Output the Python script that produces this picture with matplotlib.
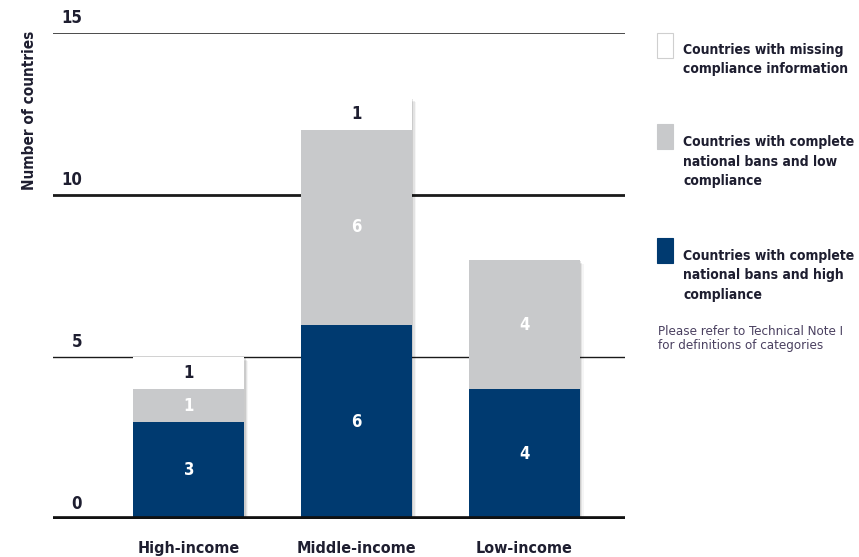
import matplotlib
matplotlib.use('Agg')
import matplotlib.pyplot as plt
from matplotlib import font_manager as fm
import matplotlib.transforms as mtransforms
from matplotlib.patches import Rectangle

categories = ['High-income', 'Middle-income', 'Low-income']
high_compliance = [3, 6, 4]
low_compliance = [1, 6, 4]
missing_info = [1, 1, 0]
y_ticks = [0, 5, 10, 15]
legend_labels = ['Countries with missing\ncompliance information',
                 'Countries with complete\nnational bans and low\ncompliance',
                 'Countries with complete\nnational bans and high\ncompliance']
note_text = 'Please refer to Technical Note I\nfor definitions of categories'
y_label = 'Number of countries'

names = {f.name for f in fm.fontManager.ttflist}
if 'Liberation Sans Narrow' in names:
    FAM = ['Liberation Sans Narrow', 'DejaVu Sans']
    STRETCH = 'normal'
else:
    FAM = ['DejaVu Sans']
    STRETCH = 'condensed'
plt.rcParams['font.family'] = FAM
plt.rcParams['font.stretch'] = STRETCH

BLUE = '#003a70'
GRAY = '#c8c9cb'
WHITE = '#ffffff'
DARK = '#1e1e30'
LINE = '#1a1a1a'

W, H = 859, 557
fig = plt.figure(figsize=(W / 100, H / 100), dpi=100)
ax = fig.add_axes([53 / W, 38 / H, 572 / W, 486 / H])
ax.set_ylim(0, 15)
ax.set_xlim(-0.809, 2.60)
for s in ax.spines.values():
    s.set_visible(False)
ax.set_yticks([])

# grid lines
widths = {5: 1.0, 10: 2.0, 15: 1.1}
for v in y_ticks[1:]:
    ax.axhline(v, color=LINE, lw=widths[v], zorder=1)
ax.axhline(0, color='#111111', lw=4.8, zorder=4)

# y tick labels above lines
ttrans = mtransforms.offset_copy(ax.get_yaxis_transform(), fig=fig, x=0, y=4, units='points')
for v in y_ticks:
    ax.text(0.0507, v, str(v), transform=ttrans, ha='right', va='bottom',
            fontsize=12, fontweight='bold', color=DARK)

x = list(range(len(categories)))
bw = 0.66
bottoms2 = [a + b for a, b in zip(high_compliance, low_compliance)]
series = [(high_compliance, [0, 0, 0], BLUE, 'white'),
          (low_compliance, high_compliance, GRAY, 'white'),
          (missing_info, bottoms2, WHITE, DARK)]

# soft shadow
totals = [a + b + c for a, b, c in zip(high_compliance, low_compliance, missing_info)]
for k, a in enumerate([0.10, 0.07, 0.04]):
    shk = mtransforms.offset_copy(ax.transData, fig=fig, x=1 + k, y=-(1 + k), units='points')
    ax.bar(x, totals, width=bw, color='#000000', alpha=a, zorder=1.5, transform=shk, lw=0)

for vals, bots, col, tcol in series:
    ax.bar(x, vals, width=bw, bottom=bots, color=col, zorder=2, lw=0)
    for xi, v, b in zip(x, vals, bots):
        if v > 0:
            ax.text(xi, b + v / 2, str(v), ha='center', va='center', fontsize=12,
                    fontweight='bold', color=tcol, zorder=5)

ax.set_xticks(x)
ax.set_xticklabels(categories, fontsize=11.5, fontweight='bold', color=DARK)
ax.tick_params(axis='x', length=0, pad=16)

fig.text(30 / W, 1 - 110 / H, y_label, rotation=90, ha='center', va='center',
         fontsize=11, fontweight='bold', color=DARK)

# legend
box_tops = [33, 124, 238]
text_tops = [43, 135, 249]
cols = [WHITE, GRAY, BLUE]
for bt, tt, c, lab in zip(box_tops, text_tops, cols, legend_labels):
    fig.patches.append(Rectangle((657 / W, 1 - (bt + 25) / H), 16 / W, 25 / H,
                                 transform=fig.transFigure, facecolor=c,
                                 edgecolor='#cfcfcf' if c == WHITE else c, lw=0.8))
    fig.text(683 / W, 1 - tt / H, lab, ha='left', va='top', fontsize=10,
             fontweight='bold', color=DARK, linespacing=1.5)

fig.text(658 / W, 1 - 325 / H, note_text, ha='left', va='top', fontsize=9.5,
         color='#4a4060', linespacing=1.15)

fig.savefig('out.png', dpi=100)
